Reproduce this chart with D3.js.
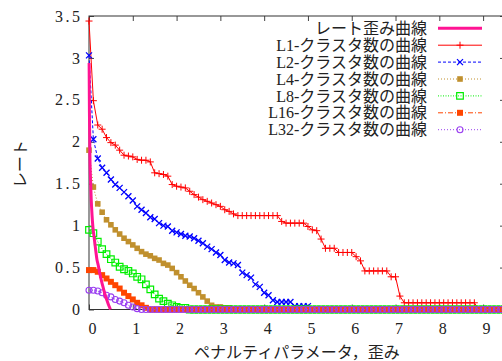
<!DOCTYPE html>
<html>
<head>
<meta charset="utf-8">
<script src="https://cdn.jsdelivr.net/npm/d3@7/dist/d3.min.js"></script>
<style>
body { margin: 0; background: #fff; }
</style>
</head>
<body>
<div id="chart"></div>
<script>
// penalty parameter grid (x) shared by the cluster curves
var penalty = [
    0, 0.1, 0.2, 0.3, 0.4, 0.5, 0.6, 0.7, 0.8, 0.9,
    1, 1.1, 1.2, 1.3, 1.4, 1.5, 1.6, 1.7, 1.8, 1.9,
    2, 2.1, 2.2, 2.3, 2.4, 2.5, 2.6, 2.7, 2.8, 2.9,
    3, 3.1, 3.2, 3.3, 3.4, 3.5, 3.6, 3.7, 3.8, 3.9,
    4, 4.1, 4.2, 4.3, 4.4, 4.5, 4.6, 4.7, 4.8, 4.9,
    5, 5.1, 5.2, 5.3, 5.4, 5.5, 5.6, 5.7, 5.8, 5.9,
    6, 6.1, 6.2, 6.3, 6.4, 6.5, 6.6, 6.7, 6.8, 6.9,
    7, 7.1, 7.2, 7.3, 7.4, 7.5, 7.6, 7.7, 7.8, 7.9,
    8, 8.1, 8.2, 8.3, 8.4, 8.5, 8.6, 8.7, 8.8, 8.9,
    9, 9.1, 9.2, 9.3, 9.4, 9.5];

var rateL1 = [
    3.44, 2.49, 2.20, 2.15, 2.05, 1.99, 1.96, 1.90, 1.84, 1.83,
    1.82, 1.79, 1.78, 1.78, 1.76, 1.63, 1.62, 1.61, 1.59, 1.49,
    1.47, 1.46, 1.45, 1.41, 1.37, 1.34, 1.31, 1.29, 1.27, 1.25,
    1.23, 1.19, 1.17, 1.14, 1.12, 1.12, 1.12, 1.12, 1.12, 1.12,
    1.12, 1.12, 1.12, 1.12, 1.05, 1.03, 1.03, 1.03, 1.03, 1.03,
    0.99, 0.95, 0.94, 0.84, 0.73, 0.73, 0.73, 0.68, 0.68, 0.68,
    0.68, 0.63, 0.58, 0.46, 0.46, 0.46, 0.46, 0.46, 0.46, 0.39,
    0.39, 0.16, 0.08, 0.08, 0.08, 0.08, 0.08, 0.08, 0.08, 0.08,
    0.08, 0.08, 0.08, 0.08, 0.08, 0.08, 0.08, 0.08, 0.08, 0,
    0, 0, 0, 0, 0, 0];

var rateL2 = [
    3.03, 2.03, 1.80, 1.69, 1.63, 1.55, 1.49, 1.45, 1.40, 1.35,
    1.30, 1.23, 1.19, 1.15, 1.10, 1.08, 1.03, 1.00, 0.99, 0.94,
    0.92, 0.90, 0.88, 0.87, 0.85, 0.82, 0.79, 0.75, 0.72, 0.68,
    0.65, 0.59, 0.56, 0.55, 0.53, 0.44, 0.41, 0.38, 0.30, 0.27,
    0.20, 0.17, 0.11, 0.09, 0.09, 0.09, 0.09, 0.04, 0.04, 0.04,
    0.04, 0, 0, 0, 0, 0, 0, 0, 0, 0,
    0, 0, 0, 0, 0, 0, 0, 0, 0, 0,
    0, 0, 0, 0, 0, 0, 0, 0, 0, 0,
    0, 0, 0, 0, 0, 0, 0, 0, 0, 0,
    0, 0, 0, 0, 0, 0];

var rateL4 = [
    1.90, 1.46, 1.26, 1.16, 1.07, 1.01, 0.95, 0.90, 0.85, 0.81,
    0.77, 0.73, 0.69, 0.66, 0.64, 0.61, 0.59, 0.55, 0.53, 0.49,
    0.44, 0.39, 0.34, 0.29, 0.25, 0.20, 0.15, 0.10, 0.05, 0.03,
    0.03, 0.02, 0.02, 0, 0, 0, 0, 0, 0, 0,
    0, 0, 0, 0, 0, 0, 0, 0, 0, 0,
    0, 0, 0, 0, 0, 0, 0, 0, 0, 0,
    0, 0, 0, 0, 0, 0, 0, 0, 0, 0,
    0, 0, 0, 0, 0, 0, 0, 0, 0, 0,
    0, 0, 0, 0, 0, 0, 0, 0, 0, 0,
    0, 0, 0, 0, 0, 0];

var rateL8 = [
    0.95, 0.91, 0.81, 0.72, 0.66, 0.60, 0.56, 0.51, 0.48, 0.46,
    0.43, 0.39, 0.36, 0.30, 0.24, 0.18, 0.13, 0.10, 0.07, 0.05,
    0.03, 0.02, 0.02, 0, 0, 0, 0, 0, 0, 0,
    0, 0, 0, 0, 0, 0, 0, 0, 0, 0,
    0, 0, 0, 0, 0, 0, 0, 0, 0, 0,
    0, 0, 0, 0, 0, 0, 0, 0, 0, 0,
    0, 0, 0, 0, 0, 0, 0, 0, 0, 0,
    0, 0, 0, 0, 0, 0, 0, 0, 0, 0,
    0, 0, 0, 0, 0, 0, 0, 0, 0, 0,
    0, 0, 0, 0, 0, 0];

var rateL16 = [
    0.47, 0.47, 0.45, 0.41, 0.37, 0.33, 0.29, 0.25, 0.20, 0.16,
    0.12, 0.08, 0.05, 0.02, 0, 0, 0, 0, 0, 0,
    0, 0, 0, 0, 0, 0, 0, 0, 0, 0,
    0, 0, 0, 0, 0, 0, 0, 0, 0, 0,
    0, 0, 0, 0, 0, 0, 0, 0, 0, 0,
    0, 0, 0, 0, 0, 0, 0, 0, 0, 0,
    0, 0, 0, 0, 0, 0, 0, 0, 0, 0,
    0, 0, 0, 0, 0, 0, 0, 0, 0, 0,
    0, 0, 0, 0, 0, 0, 0, 0, 0, 0,
    0, 0, 0, 0, 0, 0];

var rateL32 = [
    0.23, 0.23, 0.22, 0.20, 0.17, 0.15, 0.12, 0.10, 0.08, 0.05,
    0.03, 0.01, 0, 0, 0, 0, 0, 0, 0, 0,
    0, 0, 0, 0, 0, 0, 0, 0, 0, 0,
    0, 0, 0, 0, 0, 0, 0, 0, 0, 0,
    0, 0, 0, 0, 0, 0, 0, 0, 0, 0,
    0, 0, 0, 0, 0, 0, 0, 0, 0, 0,
    0, 0, 0, 0, 0, 0, 0, 0, 0, 0,
    0, 0, 0, 0, 0, 0, 0, 0, 0, 0,
    0, 0, 0, 0, 0, 0, 0, 0, 0, 0,
    0, 0, 0, 0, 0, 0];

// rate-distortion curve (distortion, rate)
var rdDistortion = [0.003, 0.01, 0.02, 0.035, 0.05, 0.07, 0.09, 0.12, 0.15, 0.18, 0.21, 0.25, 0.29, 0.33, 0.37, 0.41, 0.45, 0.49];
var rdRate       = [2.94, 2.35, 1.85, 1.55, 1.32, 1.12, 0.98, 0.85, 0.72, 0.60, 0.53, 0.42, 0.33, 0.25, 0.17, 0.11, 0.05, 0.0];

var xTicks = [0, 1, 2, 3, 4, 5, 6, 7, 8, 9];
var yTicks = [0, 0.5, 1, 1.5, 2, 2.5, 3, 3.5];

var legendLabels = ["レート歪み曲線", "L1-クラスタ数の曲線", "L2-クラスタ数の曲線", "L4-クラスタ数の曲線",
    "L8-クラスタ数の曲線", "L16-クラスタ数の曲線", "L32-クラスタ数の曲線"];

var fontStack = "'Liberation Serif', 'Times New Roman', 'DejaVu Serif', 'Noto Sans CJK JP', serif";
var textColor = "#222";

var svgWidth = 502, svgHeight = 361;
var plotLeft = 89, plotRight = 505, plotTop = 16, plotBottom = 309.5;

var svg = d3.select("#chart").append("svg")
    .attr("width", svgWidth)
    .attr("height", svgHeight);

var x = d3.scaleLinear().domain([0, 9.5]).range([plotLeft, plotRight]);
var y = d3.scaleLinear().domain([0, 3.5]).range([plotBottom, plotTop]);

// marker shapes, gnuplot style
function markerPath(type, s) {
    if (type == "plus") return "M" + (-s) + ",0H" + s + "M0," + (-s) + "V" + s;
    if (type == "cross") return "M" + (-s) + "," + (-s) + "L" + s + "," + s + "M" + (-s) + "," + s + "L" + s + "," + (-s);
    if (type == "square") return "M" + (-s) + "," + (-s) + "H" + s + "V" + s + "H" + (-s) + "Z";
    if (type == "circle") return "M" + (-s) + ",0A" + s + "," + s + " 0 1,0 " + s + ",0A" + s + "," + s + " 0 1,0 " + (-s) + ",0Z";
}

var series = [
    { values: rateL1,  color: "#ff0000", dash: null,      marker: "plus",   size: 3.5, filled: false, mw: 1 },
    { values: rateL2,  color: "#0000ff", dash: "3,2",     marker: "cross",  size: 3,   filled: false, mw: 1.3 },
    { values: rateL4,  color: "#c0902e", dash: "1,2",     marker: "square", size: 2.8, filled: true,  mw: 0 },
    { values: rateL8,  color: "#00ee00", dash: "1,1.5",   marker: "square", size: 3.3, filled: false, mw: 1.2 },
    { values: rateL16, color: "#ff4500", dash: "5,2,1,2", marker: "square", size: 3,   filled: true,  mw: 0 },
    { values: rateL32, color: "#9a3ff0", dash: "1,2",     marker: "circle", size: 3,   filled: false, mw: 1.1 }
];
var rdColor = "#ff1493";

function styleText(sel) {
    sel.attr("font-family", null)
        .style("font-family", fontStack)
        .style("font-size", "16px")
        .attr("fill", textColor);
}

// frame ticks (inward, mirrored)
svg.append("g")
    .attr("transform", "translate(0," + plotBottom + ")")
    .call(d3.axisBottom(x).tickValues(xTicks).tickSize(-5).tickSizeOuter(0).tickPadding(13.5))
    .call(function (g) {
        g.select(".domain").remove();
        g.selectAll("line").attr("stroke", "#444");
        g.selectAll("text").call(styleText).attr("dx", 3);
    });

svg.append("g")
    .attr("transform", "translate(0," + plotTop + ")")
    .call(d3.axisTop(x).tickValues(xTicks).tickSize(-5).tickSizeOuter(0).tickFormat(""))
    .call(function (g) { g.select(".domain").remove(); g.selectAll("line").attr("stroke", "#444"); });

svg.append("g")
    .attr("transform", "translate(" + plotLeft + ",0)")
    .call(d3.axisLeft(y).tickValues(yTicks).tickSize(-5).tickSizeOuter(0).tickPadding(6.5)
        .tickFormat(function (d) { return String(d); }))
    .call(function (g) {
        g.select(".domain").remove();
        g.selectAll("line").attr("stroke", "#444");
        g.selectAll("text").call(styleText).style("letter-spacing", "2.5px");
    });

svg.append("g")
    .attr("transform", "translate(" + plotRight + ",0)")
    .call(d3.axisRight(y).tickValues(yTicks).tickSize(-5).tickSizeOuter(0).tickFormat(""))
    .call(function (g) { g.select(".domain").remove(); g.selectAll("line").attr("stroke", "#444"); });

svg.append("rect")
    .attr("x", plotLeft).attr("y", plotTop)
    .attr("width", plotRight - plotLeft).attr("height", plotBottom - plotTop)
    .attr("fill", "none").attr("stroke", "#333").attr("stroke-width", 1);

// cluster curves
var line = d3.line()
    .x(function (d, i) { return x(penalty[i]); })
    .y(function (d) { return y(d); });

series.forEach(function (s) {
    svg.append("path")
        .datum(s.values)
        .attr("d", line)
        .attr("fill", "none")
        .attr("stroke", s.color)
        .attr("stroke-width", 1)
        .attr("stroke-dasharray", s.dash);

    svg.append("g").selectAll("path")
        .data(s.values)
        .enter().append("path")
        .attr("transform", function (d, i) { return "translate(" + x(penalty[i]) + "," + y(d) + ")"; })
        .attr("d", markerPath(s.marker, s.size))
        .attr("fill", s.filled ? s.color : "none")
        .attr("stroke", s.filled ? "none" : s.color)
        .attr("stroke-width", s.mw);
});

// rate-distortion curve on top
var rdLine = d3.line()
    .x(function (d, i) { return x(rdDistortion[i]); })
    .y(function (d) { return y(d); })
    .curve(d3.curveMonotoneX);

svg.append("path")
    .datum(rdRate)
    .attr("d", rdLine)
    .attr("fill", "none")
    .attr("stroke", rdColor)
    .attr("stroke-width", 3);

// legend
var legend = svg.append("g");
legendLabels.forEach(function (label, i) {
    var ly = 28.3 + i * 16.9;
    legend.append("text")
        .attr("x", 427).attr("y", ly)
        .attr("dy", "0.35em")
        .attr("text-anchor", "end")
        .call(styleText)
        .text(label);
    if (i == 0) {
        legend.append("line")
            .attr("x1", 438).attr("x2", 482).attr("y1", ly).attr("y2", ly)
            .attr("stroke", rdColor).attr("stroke-width", 3);
    } else {
        var s = series[i - 1];
        legend.append("line")
            .attr("x1", 438).attr("x2", 482).attr("y1", ly).attr("y2", ly)
            .attr("stroke", s.color).attr("stroke-width", 1)
            .attr("stroke-dasharray", s.dash);
        legend.append("path")
            .attr("transform", "translate(460," + ly + ")")
            .attr("d", markerPath(s.marker, s.size))
            .attr("fill", s.filled ? s.color : "none")
            .attr("stroke", s.filled ? "none" : s.color)
            .attr("stroke-width", s.mw);
    }
});

// axis titles
svg.append("text")
    .attr("transform", "translate(20,164) rotate(-90)")
    .attr("text-anchor", "middle")
    .attr("dy", "0.35em")
    .call(styleText)
    .text("レート");

svg.append("text")
    .attr("x", 297).attr("y", 352)
    .attr("text-anchor", "middle")
    .attr("dy", "0.35em")
    .call(styleText)
    .text("ペナルティパラメータ，歪み");
</script>
</body>
</html>
